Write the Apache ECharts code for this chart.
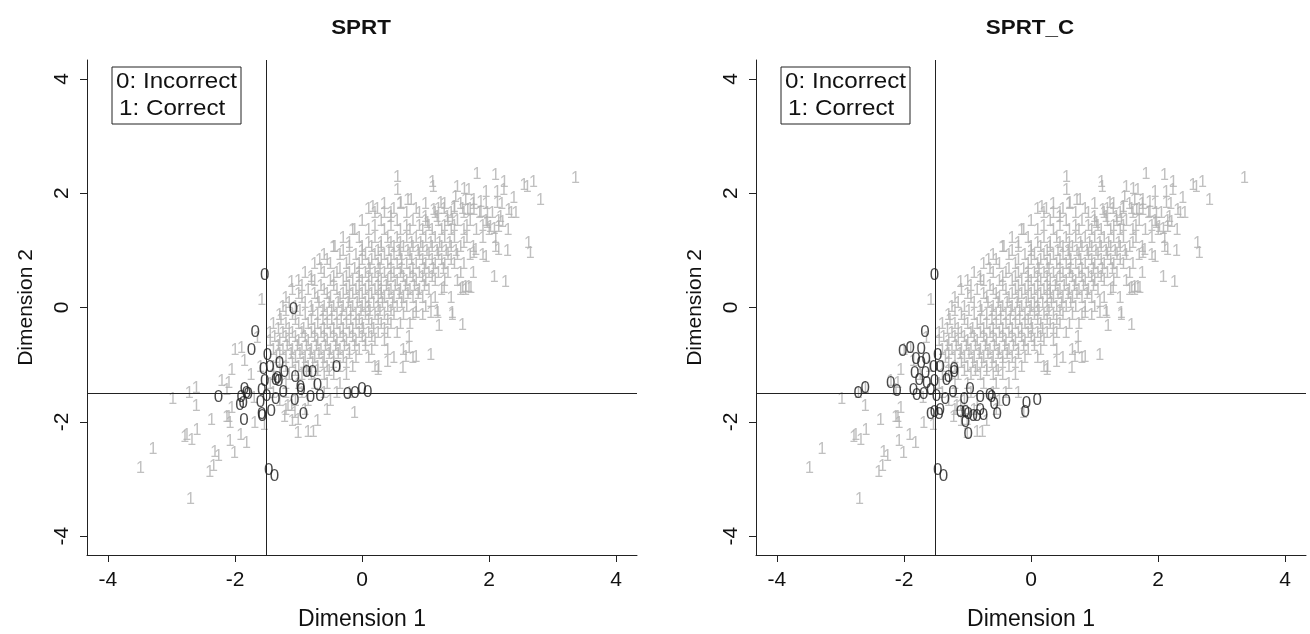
<!DOCTYPE html>
<html>
<head>
<meta charset="utf-8">
<script src="https://cdn.jsdelivr.net/npm/echarts@6/dist/echarts.min.js"></script>
<style>
  html, body { margin: 0; padding: 0; background: #fff; }
  #chart { width: 1310px; height: 634px; }
</style>
</head>
<body>
<div id="chart"></div>
<script>
const panelTitles = ['SPRT', 'SPRT_C'];
const tickValues = [-4, -2, 0, 2, 4];
const axisRange = [-4.33, 4.33];
const cutX = -1.5;
const cutY = -1.5;
const legendLines = ['0: Incorrect', '1: Correct'];

// gray "1" marks, same cloud in both panels
const correctPoints = [
  // upper right, sparse
  [0.56, 2.28], [1.11, 2.19], [1.12, 2.10], [1.81, 2.33], [2.10, 2.31], [2.24, 2.19],
  [2.55, 2.13], [2.60, 2.10], [2.70, 2.19], [3.36, 2.25], [2.81, 1.87], [2.39, 1.90],
  [2.42, 1.64], [2.31, 1.69], [2.18, 1.58], [2.13, 1.81], [2.23, 2.04], [2.13, 2.01],
  [1.50, 2.10], [1.61, 2.07], [1.68, 2.04], [1.47, 1.93], [1.63, 1.87], [1.76, 1.87],
  [1.87, 1.84], [1.95, 2.01], [1.45, 1.75], [1.58, 1.72], [1.66, 1.69], [1.76, 1.69],
  [1.87, 1.66], [1.97, 1.64], [1.24, 1.81], [1.29, 1.72], [1.34, 1.58], [1.42, 1.52],
  [1.13, 1.69], [1.18, 1.58], [1.00, 1.58], [1.03, 1.46], [0.56, 2.04], [0.24, 1.72],
  [0.35, 1.64], [0.45, 1.58], [0.61, 1.81], [0.72, 1.87], [0.77, 1.87], [0.17, 1.75],
  [-0.12, 1.34], [-0.43, 1.05], [-0.67, 0.82], [-0.80, 0.47], [2.10, 1.05], [2.15, 0.99],
  [2.29, 0.97], [1.95, 0.88], [1.76, 0.94], [1.79, 0.99], [2.62, 1.11], [2.65, 0.94],
  [2.08, 0.53], [2.26, 0.44], [1.55, 0.30], [1.63, 0.30], [1.71, 0.33], [1.42, -0.11],
  [1.18, -0.08], [1.08, -0.11], [1.97, 1.46], [2.02, 1.40], [2.08, 1.37], [2.15, 1.40],
  [2.21, 1.49],
  // right edge of the band
  [1.58, 0.33], [1.63, 0.34], [1.68, 0.35], [1.42, -0.14], [1.58, -0.31], [1.21, -0.34],
  [1.19, -0.11], [0.85, -0.11], [0.95, -0.14], [1.08, 0.09], [0.74, -0.52], [0.74, -0.72],
  [0.85, -0.87], [1.08, -0.84], [0.69, -0.87], [0.64, -1.07], [1.29, 0.33], [0.26, -1.06],
  [0.25, -1.10], [0.40, -0.96],
  // lower left tail
  [-2.98, -1.61], [-2.72, -1.51], [-2.61, -1.42], [-2.61, -1.73], [-2.37, -1.97], [-2.79, -2.27],
  [-2.68, -2.32], [-2.60, -2.15], [-3.29, -2.48], [-3.49, -2.81], [-2.70, -3.36], [-2.32, -2.53],
  [-2.26, -2.61], [-2.40, -2.88], [-2.34, -2.79], [-2.08, -2.35], [-2.01, -2.56], [-1.91, -2.24],
  [-1.82, -2.38], [-2.13, -1.92], [-2.08, -2.03], [-2.21, -1.30], [-2.13, -1.45], [-1.69, -2.03],
  [-1.54, -2.06], [-1.17, -1.74], [-1.06, -1.86], [-1.01, -2.21], [-1.58, 0.12], [-2.00, -0.75],
  [-1.90, -0.72], [-2.10, -1.33], [-2.05, -1.77], [-2.10, -1.92], [-2.76, -2.24], [-1.22, -1.92],
  [-1.11, -1.74], [-1.01, -1.97], [-0.85, -2.18], [-0.77, -2.18], [-0.12, -1.86], [-1.11, 0.44],
  [-1.85, -0.95], [-2.05, -1.10], [-1.75, -1.20], [-1.65, -0.55], [-1.70, -1.60], [-1.60, -1.05],
  // dense core, row by row
  [0.35, 1.80], [0.60, 1.80], [1.00, 1.80], [1.30, 1.80], [1.55, 1.80], [1.75, 1.80], [1.95, 1.80], [2.20, 1.80],
  [0.10, 1.72], [0.50, 1.72], [0.85, 1.72], [1.20, 1.72], [1.45, 1.72], [1.70, 1.72],
  [0.20, 1.65], [0.45, 1.65], [0.70, 1.65], [0.90, 1.65], [1.15, 1.65], [1.40, 1.65], [1.60, 1.65], [1.85, 1.65], [2.05, 1.65], [2.35, 1.65],
  [0.00, 1.50], [0.30, 1.50], [0.55, 1.50], [0.80, 1.50], [1.00, 1.50], [1.20, 1.50], [1.35, 1.50], [1.50, 1.50], [1.70, 1.50], [1.95, 1.50], [2.15, 1.50],
  [0.20, 1.42], [0.45, 1.42], [0.70, 1.42], [0.90, 1.42], [1.05, 1.42], [1.30, 1.42], [1.45, 1.42], [1.65, 1.42], [1.90, 1.42],
  [-0.15, 1.35], [0.10, 1.35], [0.35, 1.35], [0.60, 1.35], [0.75, 1.35], [0.95, 1.35], [1.10, 1.35], [1.25, 1.35], [1.40, 1.35], [1.60, 1.35], [1.80, 1.35], [2.00, 1.35], [2.30, 1.35],
  [-0.30, 1.20], [-0.05, 1.20], [0.20, 1.20], [0.40, 1.20], [0.55, 1.20], [0.70, 1.20], [0.85, 1.20], [1.00, 1.20], [1.15, 1.20], [1.30, 1.20], [1.45, 1.20], [1.65, 1.20], [1.90, 1.20], [2.10, 1.20],
  [-0.20, 1.12], [0.10, 1.12], [0.30, 1.12], [0.45, 1.12], [0.60, 1.12], [0.78, 1.12], [0.92, 1.12], [1.08, 1.12], [1.22, 1.12], [1.38, 1.12], [1.60, 1.12],
  [-0.45, 1.05], [-0.20, 1.05], [0.00, 1.05], [0.15, 1.05], [0.30, 1.05], [0.50, 1.05], [0.65, 1.05], [0.80, 1.05], [0.95, 1.05], [1.10, 1.05], [1.25, 1.05], [1.40, 1.05], [1.55, 1.05], [1.75, 1.05],
  [-0.30, 0.97], [0.00, 0.97], [0.25, 0.97], [0.42, 0.97], [0.58, 0.97], [0.72, 0.97], [0.88, 0.97], [1.02, 0.97], [1.18, 0.97], [1.32, 0.97], [1.48, 0.97],
  [-0.60, 0.90], [-0.35, 0.90], [-0.10, 0.90], [0.05, 0.90], [0.20, 0.90], [0.35, 0.90], [0.50, 0.90], [0.60, 0.90], [0.75, 0.90], [0.90, 0.90], [1.05, 0.90], [1.20, 0.90], [1.35, 0.90], [1.50, 0.90], [1.70, 0.90], [1.90, 0.90],
  [-0.55, 0.82], [-0.20, 0.82], [0.00, 0.82], [0.15, 0.82], [0.30, 0.82], [0.45, 0.82], [0.62, 0.82], [0.78, 0.82], [0.95, 0.82], [1.10, 0.82], [1.25, 0.82], [1.40, 0.82],
  [-0.75, 0.75], [-0.50, 0.75], [-0.25, 0.75], [-0.05, 0.75], [0.10, 0.75], [0.25, 0.75], [0.40, 0.75], [0.55, 0.75], [0.70, 0.75], [0.85, 0.75], [1.00, 0.75], [1.15, 0.75], [1.30, 0.75], [1.45, 0.75], [1.60, 0.75],
  [-0.65, 0.67], [-0.35, 0.67], [-0.12, 0.67], [0.12, 0.67], [0.28, 0.67], [0.45, 0.67], [0.62, 0.67], [0.80, 0.67], [0.98, 0.67], [1.12, 0.67], [1.28, 0.67],
  [-0.90, 0.60], [-0.60, 0.60], [-0.40, 0.60], [-0.20, 0.60], [-0.05, 0.60], [0.05, 0.60], [0.20, 0.60], [0.35, 0.60], [0.50, 0.60], [0.60, 0.60], [0.75, 0.60], [0.90, 0.60], [1.05, 0.60], [1.20, 0.60], [1.35, 0.60], [1.55, 0.60], [1.75, 0.60],
  [-0.80, 0.52], [-0.45, 0.52], [-0.25, 0.52], [-0.05, 0.52], [0.10, 0.52], [0.25, 0.52], [0.45, 0.52], [0.65, 0.52], [0.80, 0.52], [0.95, 0.52], [1.10, 0.52],
  [-1.00, 0.45], [-0.75, 0.45], [-0.50, 0.45], [-0.30, 0.45], [-0.15, 0.45], [0.00, 0.45], [0.15, 0.45], [0.30, 0.45], [0.40, 0.45], [0.55, 0.45], [0.70, 0.45], [0.85, 0.45], [1.00, 0.45], [1.15, 0.45], [1.30, 0.45], [1.50, 0.45],
  [-0.95, 0.37], [-0.65, 0.37], [-0.45, 0.37], [-0.20, 0.37], [-0.05, 0.37], [0.10, 0.37], [0.25, 0.37], [0.38, 0.37], [0.52, 0.37], [0.68, 0.37], [0.82, 0.37], [0.98, 0.37],
  [-1.10, 0.30], [-0.85, 0.30], [-0.60, 0.30], [-0.40, 0.30], [-0.25, 0.30], [-0.10, 0.30], [0.05, 0.30], [0.20, 0.30], [0.30, 0.30], [0.45, 0.30], [0.60, 0.30], [0.75, 0.30], [0.90, 0.30], [1.05, 0.30], [1.25, 0.30],
  [-1.00, 0.22], [-0.75, 0.22], [-0.55, 0.22], [-0.30, 0.22], [-0.15, 0.22], [0.00, 0.22], [0.15, 0.22], [0.30, 0.22], [0.42, 0.22], [0.58, 0.22], [0.72, 0.22], [0.88, 0.22],
  [-1.20, 0.15], [-0.95, 0.15], [-0.70, 0.15], [-0.50, 0.15], [-0.35, 0.15], [-0.20, 0.15], [-0.05, 0.15], [0.10, 0.15], [0.25, 0.15], [0.35, 0.15], [0.50, 0.15], [0.65, 0.15], [0.80, 0.15], [0.95, 0.15], [1.15, 0.15], [1.40, 0.15],
  [-1.15, 0.07], [-0.90, 0.07], [-0.68, 0.07], [-0.52, 0.07], [-0.38, 0.07], [-0.22, 0.07], [-0.08, 0.07], [0.05, 0.07], [0.18, 0.07], [0.32, 0.07], [0.48, 0.07], [0.62, 0.07],
  [-1.25, 0.00], [-1.05, 0.00], [-0.80, 0.00], [-0.60, 0.00], [-0.45, 0.00], [-0.30, 0.00], [-0.15, 0.00], [0.00, 0.00], [0.10, 0.00], [0.25, 0.00], [0.40, 0.00], [0.55, 0.00], [0.70, 0.00], [0.85, 0.00], [1.00, 0.00],
  [-1.20, -0.08], [-0.98, -0.08], [-0.78, -0.08], [-0.62, -0.08], [-0.48, -0.08], [-0.32, -0.08], [-0.18, -0.08], [-0.02, -0.08], [0.12, -0.08], [0.28, -0.08], [0.45, -0.08],
  [-1.30, -0.15], [-1.10, -0.15], [-0.90, -0.15], [-0.70, -0.15], [-0.55, -0.15], [-0.40, -0.15], [-0.25, -0.15], [-0.10, -0.15], [0.05, -0.15], [0.20, -0.15], [0.35, -0.15], [0.50, -0.15], [0.65, -0.15], [0.80, -0.15],
  [-1.28, -0.23], [-1.05, -0.23], [-0.80, -0.23], [-0.62, -0.23], [-0.48, -0.23], [-0.33, -0.23], [-0.18, -0.23], [-0.05, -0.23], [0.10, -0.23], [0.25, -0.23], [0.40, -0.23],
  [-1.40, -0.30], [-1.20, -0.30], [-1.00, -0.30], [-0.85, -0.30], [-0.70, -0.30], [-0.55, -0.30], [-0.40, -0.30], [-0.25, -0.30], [-0.10, -0.30], [0.00, -0.30], [0.15, -0.30], [0.30, -0.30], [0.45, -0.30], [0.60, -0.30], [0.75, -0.30],
  [-1.32, -0.38], [-1.15, -0.38], [-0.92, -0.38], [-0.75, -0.38], [-0.60, -0.38], [-0.45, -0.38], [-0.30, -0.38], [-0.15, -0.38], [0.02, -0.38], [0.18, -0.38], [0.35, -0.38],
  [-1.45, -0.45], [-1.25, -0.45], [-1.10, -0.45], [-0.95, -0.45], [-0.80, -0.45], [-0.65, -0.45], [-0.50, -0.45], [-0.35, -0.45], [-0.20, -0.45], [-0.05, -0.45], [0.10, -0.45], [0.25, -0.45], [0.40, -0.45], [0.55, -0.45],
  [-1.38, -0.53], [-1.20, -0.53], [-1.05, -0.53], [-0.90, -0.53], [-0.75, -0.53], [-0.60, -0.53], [-0.45, -0.53], [-0.30, -0.53], [-0.15, -0.53], [0.00, -0.53], [0.15, -0.53],
  [-1.45, -0.60], [-1.30, -0.60], [-1.15, -0.60], [-1.00, -0.60], [-0.85, -0.60], [-0.70, -0.60], [-0.55, -0.60], [-0.40, -0.60], [-0.25, -0.60], [-0.10, -0.60], [0.05, -0.60], [0.20, -0.60], [0.35, -0.60],
  [-1.32, -0.68], [-1.18, -0.68], [-1.02, -0.68], [-0.88, -0.68], [-0.72, -0.68], [-0.58, -0.68], [-0.42, -0.68], [-0.28, -0.68], [-0.12, -0.68], [0.05, -0.68],
  [-1.40, -0.75], [-1.25, -0.75], [-1.10, -0.75], [-0.95, -0.75], [-0.80, -0.75], [-0.65, -0.75], [-0.50, -0.75], [-0.35, -0.75], [-0.20, -0.75], [-0.05, -0.75], [0.15, -0.75], [0.40, -0.75], [0.65, -0.75],
  [-1.30, -0.83], [-1.12, -0.83], [-0.98, -0.83], [-0.82, -0.83], [-0.68, -0.83], [-0.52, -0.83], [-0.38, -0.83], [-0.20, -0.83],
  [-1.35, -0.90], [-1.20, -0.90], [-1.05, -0.90], [-0.90, -0.90], [-0.75, -0.90], [-0.60, -0.90], [-0.45, -0.90], [-0.30, -0.90], [-0.10, -0.90], [0.10, -0.90], [0.50, -0.90], [0.80, -0.90],
  [-1.30, -0.98], [-1.10, -0.98], [-0.92, -0.98], [-0.78, -0.98], [-0.62, -0.98], [-0.45, -0.98], [-0.25, -0.98],
  [-1.40, -1.05], [-1.20, -1.05], [-1.00, -1.05], [-0.85, -1.05], [-0.70, -1.05], [-0.55, -1.05], [-0.35, -1.05], [-0.15, -1.05], [0.20, -1.05],
  [-1.30, -1.13], [-1.05, -1.13], [-0.88, -1.13], [-0.70, -1.13], [-0.52, -1.13],
  [-1.40, -1.20], [-1.15, -1.20], [-0.95, -1.20], [-0.80, -1.20], [-0.60, -1.20], [-0.45, -1.20], [-0.25, -1.20],
  [-1.45, -1.35], [-1.20, -1.35], [-1.00, -1.35], [-0.75, -1.35], [-0.55, -1.35], [-0.35, -1.35],
  [-1.40, -1.50], [-1.20, -1.50], [-0.95, -1.50], [-0.60, -1.50], [-0.40, -1.50], [-0.20, -1.50],
  [-1.30, -1.65], [-1.05, -1.65], [-0.85, -1.65], [-0.50, -1.65],
  [-1.20, -1.80], [-0.90, -1.80], [-0.55, -1.80],
  [-1.10, -2.00], [-0.70, -2.00]
];

// black "0" marks, SPRT panel
const incorrectSPRT = [
  [-1.53, 0.56], [-1.08, -0.04], [-1.68, -0.44], [-1.74, -0.75], [-1.49, -0.84], [-1.55, -1.08],
  [-1.45, -1.05], [-1.30, -0.98], [-1.22, -1.13], [-1.05, -1.23], [-0.87, -1.14], [-0.78, -1.14],
  [-0.40, -1.04], [-1.36, -1.28], [-1.31, -1.30], [-1.33, -1.24], [-1.53, -1.30], [-1.58, -1.45],
  [-1.50, -1.55], [-1.36, -1.60], [-1.24, -1.48], [-1.06, -1.62], [-0.97, -1.40], [-0.96, -1.45],
  [-0.81, -1.58], [-0.70, -1.36], [-0.66, -1.55], [-0.23, -1.52], [-0.11, -1.51], [0.00, -1.44],
  [0.09, -1.48], [-2.26, -1.57], [-1.85, -1.44], [-1.79, -1.52], [-1.90, -1.57], [-1.92, -1.71],
  [-1.87, -1.68], [-1.86, -1.97], [-1.60, -1.65], [-1.58, -1.86], [-1.57, -1.90], [-1.43, -1.81],
  [-0.92, -1.87], [-1.47, -2.84], [-1.38, -2.96], [-1.82, -1.50]
];

// black "0" marks, SPRT_C panel
const incorrectSPRTC = [
  [-1.52, 0.56], [-1.67, -0.44], [-2.02, -0.76], [-1.90, -0.71], [-1.73, -0.73], [-1.81, -0.91],
  [-1.73, -0.98], [-1.65, -0.90], [-1.47, -0.84], [-1.53, -1.04], [-1.43, -1.05], [-1.21, -1.09],
  [-1.83, -1.15], [-1.66, -1.16], [-1.76, -1.28], [-1.64, -1.33], [-1.52, -1.30], [-1.33, -1.28],
  [-2.21, -1.32], [-2.11, -1.46], [-2.61, -1.41], [-2.72, -1.51], [-1.85, -1.45], [-1.80, -1.54],
  [-1.69, -1.52], [-1.58, -1.45], [-1.49, -1.55], [-1.35, -1.60], [-1.23, -1.48], [-1.05, -1.61],
  [-0.96, -1.43], [-0.80, -1.57], [-0.65, -1.54], [-0.62, -1.57], [-0.58, -1.69], [-0.53, -1.86],
  [-0.39, -1.64], [-0.09, -1.84], [-0.07, -1.68], [0.10, -1.62], [-1.11, -1.83], [-1.03, -1.83],
  [-0.99, -1.86], [-1.03, -2.01], [-0.99, -2.21], [-0.91, -1.90], [-0.85, -1.91], [-0.75, -1.89],
  [-0.80, -1.80], [-1.58, -1.87], [-1.52, -1.84], [-1.45, -1.86], [-1.43, -1.79], [-1.47, -2.84],
  [-1.38, -2.96], [-1.30, -1.22], [-1.21, -1.13]
];

const FONT = '"Liberation Sans", Arial, sans-serif';
const chart = echarts.init(document.getElementById('chart'));

const grids = [
  { left: 87, top: 60, width: 550, height: 495, outerBoundsMode: 'none' },
  { left: 756, top: 60, width: 550, height: 495, outerBoundsMode: 'none' }
];

function axisCommon() {
  return {
    type: 'value',
    min: axisRange[0],
    max: axisRange[1],
    axisLine: { show: true, onZero: false, lineStyle: { color: '#222', width: 1 } },
    axisTick: { show: true, inside: false, length: 7, customValues: tickValues, lineStyle: { color: '#222' } },
    axisLabel: { customValues: tickValues, color: '#111', fontSize: 21, fontFamily: FONT },
    splitLine: { show: false },
    nameLocation: 'middle',
    nameTextStyle: { color: '#111', fontSize: 21, fontFamily: FONT }
  };
}

const xAxes = grids.map((g, i) => Object.assign(axisCommon(), {
  gridIndex: i, name: 'Dimension 1', nameGap: 53,
  axisLabel: Object.assign(axisCommon().axisLabel, { margin: 15 }),
  nameTextStyle: { color: '#111', fontSize: 23, fontFamily: FONT }
}));
const yAxes = grids.map((g, i) => Object.assign(axisCommon(), {
  gridIndex: i, name: 'Dimension 2', nameGap: 50,
  axisLabel: Object.assign(axisCommon().axisLabel, { rotate: 90, margin: 14 })
}));

function textSeries(i, data, glyph, color, size, withLines) {
  const s = {
    type: 'scatter',
    xAxisIndex: i,
    yAxisIndex: i,
    data: data,
    symbol: 'circle',
    symbolSize: 1,
    silent: true,
    itemStyle: { color: 'rgba(0,0,0,0)' },
    label: {
      show: true, position: 'inside', formatter: glyph,
      color: color, fontSize: size, fontFamily: FONT
    },
    emphasis: { disabled: true }
  };
  if (withLines) {
    s.markLine = {
      silent: true,
      symbol: ['none', 'none'],
      label: { show: false },
      lineStyle: { color: '#222', width: 1, type: 'solid' },
      data: [{ xAxis: cutX }, { yAxis: cutY }]
    };
  }
  return s;
}

const series = [];
[incorrectSPRT, incorrectSPRTC].forEach((zeros, i) => {
  series.push(textSeries(i, correctPoints, '1', '#b0b0b0', 16, false));
  series.push(textSeries(i, zeros, '0', '#1c1c1c', 17, true));
});

// titles and legend boxes; the source figure is slightly stretched horizontally
const graphics = [];
grids.forEach((g, i) => {
  graphics.push({
    type: 'text',
    x: g.left + g.width / 2 - 1,
    y: 28,
    scaleX: 1.12,
    style: {
      text: panelTitles[i], fill: '#111', font: 'bold 20px ' + FONT,
      textAlign: 'center', textVerticalAlign: 'middle'
    }
  });
  graphics.push({
    type: 'rect',
    shape: { x: g.left + 25, y: g.top + 7, width: 129, height: 57 },
    style: { fill: '#fff', stroke: '#222', lineWidth: 1 },
    z: 10
  });
  legendLines.forEach((t, k) => {
    graphics.push({
      type: 'text',
      x: g.left + 29 + (k === 1 ? 3 : 0),
      y: g.top + 22 + k * 27,
      scaleX: 1.1,
      style: { text: t, fill: '#111', font: '22px ' + FONT, textVerticalAlign: 'middle' },
      z: 11
    });
  });
});

chart.setOption({
  animation: false,
  backgroundColor: '#fff',
  grid: grids,
  xAxis: xAxes,
  yAxis: yAxes,
  series: series,
  graphic: graphics
});
</script>
</body>
</html>
